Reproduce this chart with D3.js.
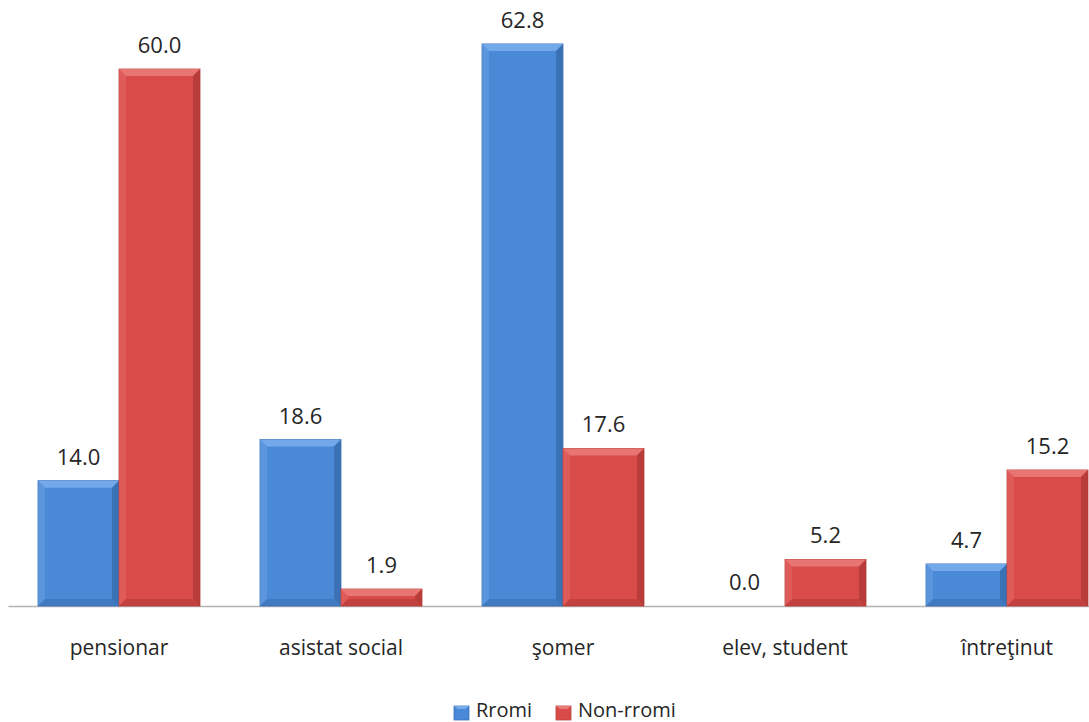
<!DOCTYPE html>
<html><head><meta charset="utf-8">
<script src="https://cdn.jsdelivr.net/npm/d3@7"></script>
<style>
html,body{margin:0;padding:0;background:#fff;overflow:hidden;}
svg{display:block;}
text{font-family:"Open Sans","Noto Sans",sans-serif;fill:#262626;}
</style></head>
<body>
<svg id="chart" width="1089" height="722"></svg>
<script>
const categories = ["pensionar", "asistat social", "şomer", "elev, student", "întreţinut"];
const seriesNames = ["Rromi", "Non-rromi"];
const rromi = [14.0, 18.6, 62.8, 0.0, 4.7];
const nonRromi = [60.0, 1.9, 17.6, 5.2, 15.2];

const svg = d3.select("#chart");
const baseY = 606;
const unit = 8.95;

const x0 = d3.scaleBand().domain(categories).range([8, 8 + 5 * 222]).padding(0);
const x1 = d3.scaleBand().domain(seriesNames).range([30, 192]).padding(0);
const y = d3.scaleLinear().domain([0, 70]).range([baseY, baseY - 70 * unit]);

const palette = {
  "Rromi": {main: "#4a89d6", light: "#78acec", dark: "#3568a8", edge: "#3b72b8"},
  "Non-rromi": {main: "#d94b49", light: "#ea7a78", dark: "#a83634", edge: "#b8403e"}
};

const data = categories.map((c, i) => ({cat: c, vals: [
  {s: "Rromi", v: rromi[i]}, {s: "Non-rromi", v: nonRromi[i]}
]}));

// axis
const axis = d3.axisBottom(x0).tickSize(0).tickPadding(0).tickFormat("");
const ax = svg.append("g").attr("transform", `translate(0,${baseY})`).call(axis);
ax.select(".domain").attr("stroke", "#b3b3b3").attr("stroke-width", 1.5);

const groups = svg.selectAll("g.cat").data(data).enter().append("g")
  .attr("class", "cat").attr("transform", d => `translate(${x0(d.cat)},0)`);

groups.each(function(d) {
  const g = d3.select(this);
  d.vals.forEach(b => {
    const bx = x1(b.s), bw = x1.bandwidth();
    const by = y(b.v), bh = baseY - y(b.v);
    const p = palette[b.s];
    if (bh > 0.5) {
      const bev = Math.min(7, bh / 2);
      g.append("rect").attr("x", bx).attr("y", by).attr("width", bw).attr("height", bh)
        .attr("fill", p.main).attr("stroke", p.edge).attr("stroke-width", 0.8);
      g.append("path").attr("d", `M${bx},${by}L${bx + bw},${by}L${bx + bw - bev},${by + bev}L${bx + bev},${by + bev}Z`)
        .attr("fill", p.light).attr("opacity", 0.9);
      g.append("path").attr("d", `M${bx},${by}L${bx + bev},${by + bev}L${bx + bev},${by + bh - bev}L${bx},${by + bh}Z`)
        .attr("fill", p.light).attr("opacity", 0.35);
      g.append("path").attr("d", `M${bx + bw},${by}L${bx + bw},${by + bh}L${bx + bw - bev},${by + bh - bev}L${bx + bw - bev},${by + bev}Z`)
        .attr("fill", p.dark).attr("opacity", 0.7);
      g.append("path").attr("d", `M${bx},${by + bh}L${bx + bev},${by + bh - bev}L${bx + bw - bev},${by + bh - bev}L${bx + bw},${by + bh}Z`)
        .attr("fill", p.dark).attr("opacity", 0.45);
    }
    g.append("text").attr("x", bx + bw / 2).attr("y", by - 16)
      .attr("text-anchor", "middle").attr("font-size", 22).text(b.v.toFixed(1));
  });
  g.append("text").attr("x", x0.bandwidth() / 2).attr("y", 655)
    .attr("text-anchor", "middle").attr("font-size", 21).text(d.cat);
});

// legend
const legend = svg.append("g");
const legendItems = [{s: "Rromi", x: 454}, {s: "Non-rromi", x: 556}];
legendItems.forEach(it => {
  const p = palette[it.s];
  legend.append("rect").attr("x", it.x).attr("y", 706).attr("width", 15).attr("height", 14)
    .attr("fill", p.main).attr("stroke", p.edge).attr("stroke-width", 0.8);
  legend.append("path").attr("d", `M${it.x},706L${it.x + 15},706L${it.x + 11},709L${it.x + 4},709Z`).attr("fill", p.light);
  legend.append("text").attr("x", it.x + 22).attr("y", 717).attr("font-size", 20).text(it.s);
});
</script>
</body></html>
